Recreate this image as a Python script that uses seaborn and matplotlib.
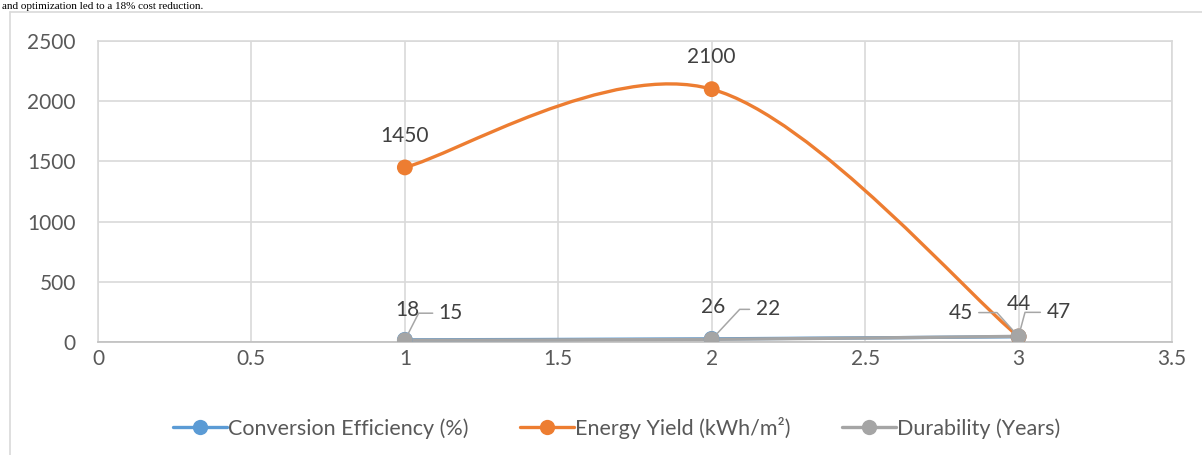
import numpy as np
import pandas as pd
import matplotlib
matplotlib.use("Agg")
import matplotlib.pyplot as plt
from matplotlib.path import Path
from matplotlib.patches import PathPatch
from matplotlib.lines import Line2D
import seaborn as sns

# data
x_vals = [1, 2, 3]
series_names = ["Conversion Efficiency (%)", "Energy Yield (kWh/m²)", "Durability (Years)"]
efficiency = [18, 26, 44]
energy_yield = [1450, 2100, 45]
durability = [15, 22, 47]
colors = ["#5B9BD5", "#ED7D31", "#A5A5A5"]

x_ticks = [0, 0.5, 1, 1.5, 2, 2.5, 3, 3.5]
y_ticks = [0, 500, 1000, 1500, 2000, 2500]

# label offsets in pixels (dx, dy) and leader angle (None = no leader)
label_offsets = {
    0: [(2, 30, None), (1, 32, None), (0, 33, None)],
    1: [(0, 31, None), (0, 32, None), (-58, 24, 132)],
    2: [(46, 27, 63), (56, 30, 47), (40, 24, 75)],
}

W, H = 1202, 455
TEXT = "#595959"
FONT = ["Lato", "DejaVu Sans"]
FS = 15


def smooth_path(xs, ys):
    """Excel-like smoothed line: cubic Bezier through the points."""
    pts = np.column_stack([xs, ys]).astype(float)
    n = len(pts)
    verts = [pts[0]]
    codes = [Path.MOVETO]
    for i in range(n - 1):
        p0 = pts[i - 1] if i > 0 else pts[i]
        p1 = pts[i]
        p2 = pts[i + 1]
        p3 = pts[i + 2] if i + 2 < n else pts[i + 1]
        c1 = p1 + (p2 - p0) / 6.0
        c2 = p2 - (p3 - p1) / 6.0
        verts += [c1, c2, p2]
        codes += [Path.CURVE4] * 3
    return Path(verts, codes)


sns.set_theme(style="white")
plt.rcParams["font.family"] = FONT

df = pd.DataFrame({
    "x": x_vals * 3,
    "value": efficiency + energy_yield + durability,
    "series": [s for s in series_names for _ in x_vals],
})

fig = plt.figure(figsize=(W / 100, H / 100), dpi=100)
fig.patch.set_facecolor("white")
ax = fig.add_axes([98 / W, 1 - 342 / H, (1172 - 98) / W, (342 - 41) / H])

# document text above the chart (kept small so it fits above the border)
fig.text(2 / W, 1 - 9 / H, "and optimization led to a 18% cost reduction.",
         family="Liberation Serif", fontsize=8, color="black",
         ha="left", va="baseline")

# chart area border
fig.add_artist(Line2D([10 / W, 10 / W], [0, 1 - 12 / H], color="#d9d9d9", lw=1.2))
fig.add_artist(Line2D([10 / W, 1], [1 - 12 / H, 1 - 12 / H], color="#d9d9d9", lw=1.2))

ax.set_xlim(0, 3.5)
ax.set_ylim(0, 2500)

for i, name in enumerate(series_names):
    sub = df[df["series"] == name]
    patch = PathPatch(smooth_path(sub["x"].values, sub["value"].values),
                      facecolor="none", edgecolor=colors[i], lw=2.4,
                      capstyle="round", joinstyle="round", zorder=3 + i)
    ax.add_patch(patch)

sns.scatterplot(data=df, x="x", y="value", hue="series", palette=colors,
                s=130, edgecolor="none", legend=False, ax=ax, zorder=6)

# data labels
for i, name in enumerate(series_names):
    sub = df[df["series"] == name]
    for j, (xv, yv) in enumerate(zip(sub["x"], sub["value"])):
        dx, dy, ang = label_offsets[i][j]
        if ang is None:
            ax.annotate(f"{yv:g}", (xv, yv), xytext=(dx, dy),
                        textcoords="offset pixels", ha="center", va="center",
                        fontsize=FS, color="#404040", zorder=8)
        else:
            rel = (0, 0.5) if dx > 0 else (1, 0.5)
            ax.annotate(f"{yv:g}", (xv, yv), xytext=(dx, dy),
                        textcoords="offset pixels", ha="center", va="center",
                        fontsize=FS, color="#404040", zorder=8,
                        arrowprops=dict(arrowstyle="-", color="#a6a6a6", lw=1.1,
                                        shrinkA=2, shrinkB=0, relpos=rel,
                                        connectionstyle=f"angle,angleA=0,angleB={ang},rad=0"))

ax.set_xticks(x_ticks)
ax.set_xticklabels([f"{t:g}" for t in x_ticks])
ax.set_yticks(y_ticks)
ax.grid(True, color="#d9d9d9", lw=1.2)
ax.set_axisbelow(True)
for side in ["top", "right", "left"]:
    ax.spines[side].set_color("#d9d9d9")
    ax.spines[side].set_linewidth(1.2)
ax.spines["bottom"].set_color("#bfbfbf")
ax.spines["bottom"].set_linewidth(1.2)
ax.tick_params(axis="both", length=0, labelsize=FS, labelcolor=TEXT)
ax.tick_params(axis="y", pad=16)
ax.tick_params(axis="x", pad=5)
ax.set_xlabel("")
ax.set_ylabel("")

handles = [Line2D([0], [0], color=c, lw=2.4, marker="o", markersize=11,
                  markeredgewidth=0) for c in colors]
fig.legend(handles, series_names, loc="center", ncol=3, frameon=False,
           bbox_to_anchor=(617 / W, 1 - 428 / H), fontsize=15.5,
           labelcolor=TEXT, handlelength=2.5, handletextpad=0.05,
           columnspacing=2.4)

fig.savefig("out.png", dpi=100, facecolor="white")
